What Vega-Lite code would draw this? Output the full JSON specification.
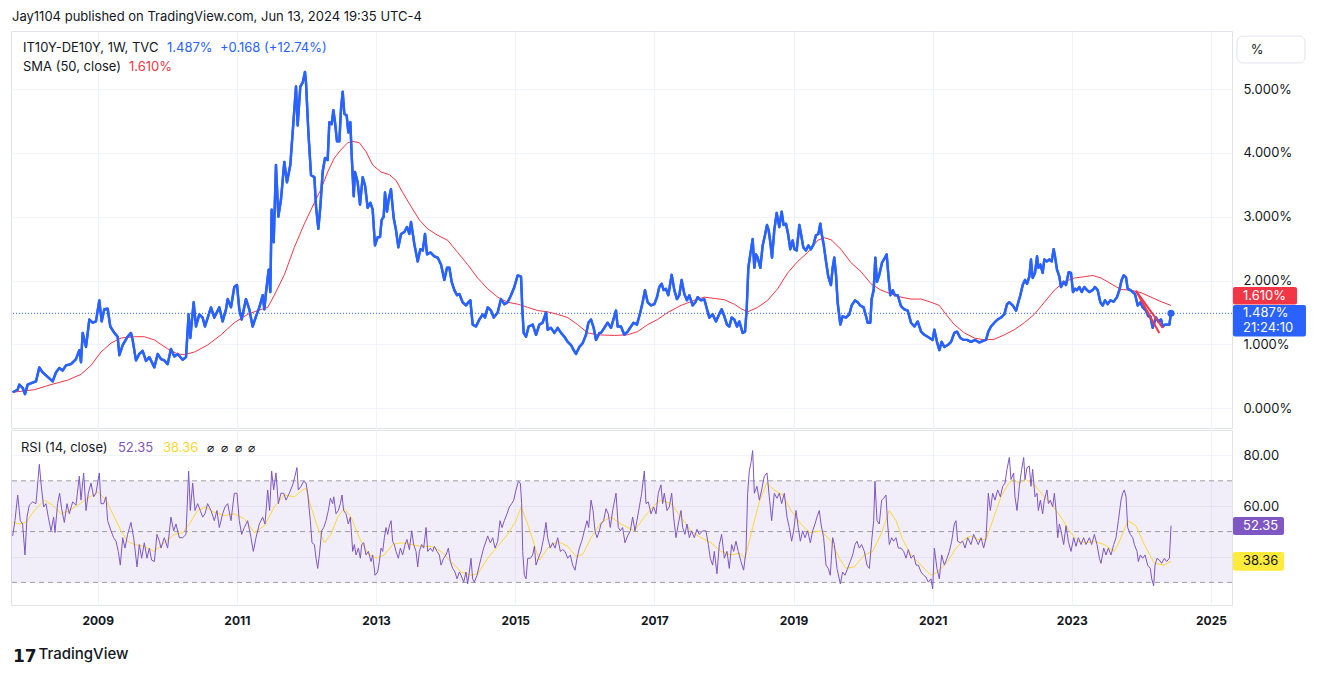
{
  "$schema": "https://vega.github.io/schema/vega-lite/v6.json",
  "background": "white",
  "padding": {"left": 10, "top": 10, "right": 10, "bottom": 0},
  "title": {"text": "Jay1104 published on TradingView.com, Jun 13, 2024 19:35 UTC-4", "anchor": "start", "fontSize": 13, "fontWeight": "normal", "color": "#131722", "font": "Inter", "offset": 7, "dx": 2},
  "spacing": 0,
  "datasets": {
    "price": [
      {"t":2007.778,"v":0.25},{"t":2007.850,"v":0.29},{"t":2007.873,"v":0.37},{"t":2007.921,"v":0.32},{"t":2007.955,"v":0.22},{"t":2007.993,"v":0.37},{"t":2008.065,"v":0.40},{"t":2008.113,"v":0.42},{"t":2008.161,"v":0.64},{"t":2008.209,"v":0.56},{"t":2008.281,"v":0.49},{"t":2008.353,"v":0.42},{"t":2008.400,"v":0.56},{"t":2008.448,"v":0.63},{"t":2008.496,"v":0.59},{"t":2008.544,"v":0.67},{"t":2008.616,"v":0.69},{"t":2008.688,"v":0.77},{"t":2008.736,"v":0.91},{"t":2008.760,"v":0.72},{"t":2008.784,"v":1.18},{"t":2008.832,"v":0.96},{"t":2008.880,"v":1.39},{"t":2008.927,"v":1.34},{"t":2008.975,"v":1.36},{"t":2009.023,"v":1.69},{"t":2009.057,"v":1.36},{"t":2009.095,"v":1.55},{"t":2009.143,"v":1.56},{"t":2009.181,"v":1.28},{"t":2009.239,"v":1.18},{"t":2009.287,"v":1.12},{"t":2009.311,"v":0.83},{"t":2009.359,"v":0.99},{"t":2009.430,"v":1.12},{"t":2009.478,"v":1.18},{"t":2009.502,"v":1.07},{"t":2009.550,"v":0.75},{"t":2009.598,"v":0.85},{"t":2009.646,"v":0.90},{"t":2009.694,"v":0.74},{"t":2009.742,"v":0.80},{"t":2009.814,"v":0.64},{"t":2009.862,"v":0.85},{"t":2009.910,"v":0.77},{"t":2009.957,"v":0.75},{"t":2010.005,"v":0.69},{"t":2010.053,"v":0.93},{"t":2010.101,"v":0.81},{"t":2010.149,"v":0.85},{"t":2010.221,"v":0.76},{"t":2010.269,"v":0.80},{"t":2010.307,"v":1.47},{"t":2010.331,"v":1.10},{"t":2010.379,"v":1.66},{"t":2010.413,"v":1.28},{"t":2010.460,"v":1.47},{"t":2010.508,"v":1.42},{"t":2010.542,"v":1.28},{"t":2010.628,"v":1.58},{"t":2010.676,"v":1.42},{"t":2010.748,"v":1.58},{"t":2010.796,"v":1.36},{"t":2010.844,"v":1.55},{"t":2010.868,"v":1.71},{"t":2010.916,"v":1.58},{"t":2010.963,"v":1.90},{"t":2011.002,"v":1.93},{"t":2011.035,"v":1.55},{"t":2011.069,"v":1.39},{"t":2011.131,"v":1.71},{"t":2011.179,"v":1.55},{"t":2011.227,"v":1.28},{"t":2011.275,"v":1.44},{"t":2011.323,"v":1.58},{"t":2011.371,"v":1.77},{"t":2011.395,"v":1.55},{"t":2011.419,"v":1.82},{"t":2011.457,"v":2.17},{"t":2011.481,"v":1.82},{"t":2011.500,"v":3.11},{"t":2011.529,"v":2.60},{"t":2011.562,"v":3.81},{"t":2011.596,"v":3.00},{"t":2011.634,"v":3.27},{"t":2011.682,"v":3.86},{"t":2011.720,"v":3.54},{"t":2011.768,"v":3.81},{"t":2011.816,"v":4.53},{"t":2011.850,"v":5.04},{"t":2011.874,"v":4.43},{"t":2011.912,"v":5.04},{"t":2011.946,"v":5.10},{"t":2011.979,"v":5.27},
      {"t":2011.994,"v":5.10},{"t":2012.027,"v":4.34},{"t":2012.066,"v":3.65},{"t":2012.114,"v":3.62},{"t":2012.138,"v":3.16},{"t":2012.171,"v":2.81},{"t":2012.200,"v":3.16},{"t":2012.233,"v":3.70},{"t":2012.267,"v":3.92},{"t":2012.305,"v":3.89},{"t":2012.329,"v":4.48},{"t":2012.363,"v":4.45},{"t":2012.387,"v":4.67},{"t":2012.411,"v":4.48},{"t":2012.439,"v":4.18},{"t":2012.473,"v":4.18},{"t":2012.497,"v":4.69},{"t":2012.521,"v":4.96},{"t":2012.545,"v":4.61},{"t":2012.578,"v":4.59},{"t":2012.602,"v":4.32},{"t":2012.631,"v":4.48},{"t":2012.650,"v":3.97},{"t":2012.679,"v":3.32},{"t":2012.698,"v":3.70},{"t":2012.736,"v":3.54},{"t":2012.770,"v":3.19},{"t":2012.808,"v":3.62},{"t":2012.842,"v":3.49},{"t":2012.880,"v":3.14},{"t":2012.918,"v":3.22},{"t":2012.952,"v":3.11},{"t":2012.985,"v":2.55},{"t":2013.024,"v":2.68},{"t":2013.057,"v":2.68},{"t":2013.081,"v":2.95},{"t":2013.110,"v":3.00},{"t":2013.129,"v":3.38},{"t":2013.158,"v":3.08},{"t":2013.182,"v":3.27},{"t":2013.215,"v":3.43},{"t":2013.254,"v":2.98},{"t":2013.287,"v":2.79},{"t":2013.321,"v":2.52},{"t":2013.359,"v":2.73},{"t":2013.407,"v":2.76},{"t":2013.445,"v":2.84},{"t":2013.479,"v":2.73},{"t":2013.503,"v":2.92},{"t":2013.551,"v":2.57},{"t":2013.599,"v":2.30},{"t":2013.637,"v":2.49},{"t":2013.671,"v":2.47},{"t":2013.704,"v":2.73},{"t":2013.733,"v":2.41},{"t":2013.781,"v":2.44},{"t":2013.838,"v":2.38},{"t":2013.886,"v":2.36},{"t":2013.934,"v":2.25},{"t":2013.982,"v":2.01},{"t":2014.020,"v":2.20},{"t":2014.054,"v":2.20},{"t":2014.087,"v":1.98},{"t":2014.126,"v":1.85},{"t":2014.164,"v":1.77},{"t":2014.198,"v":1.79},{"t":2014.245,"v":1.66},{"t":2014.293,"v":1.61},{"t":2014.327,"v":1.66},{"t":2014.356,"v":1.69},{"t":2014.389,"v":1.31},{"t":2014.437,"v":1.28},{"t":2014.485,"v":1.39},{"t":2014.533,"v":1.47},{"t":2014.566,"v":1.42},{"t":2014.605,"v":1.58},{"t":2014.653,"v":1.53},{"t":2014.691,"v":1.42},{"t":2014.748,"v":1.50},{"t":2014.796,"v":1.71},{"t":2014.844,"v":1.63},{"t":2014.892,"v":1.66},{"t":2014.940,"v":1.77},{"t":2014.988,"v":1.90},{"t":2015.036,"v":2.08},{"t":2015.084,"v":2.06},{"t":2015.103,"v":1.55},{"t":2015.122,"v":1.18},{"t":2015.156,"v":1.12},{"t":2015.194,"v":1.28},{"t":2015.252,"v":1.31},{"t":2015.300,"v":1.15},{"t":2015.347,"v":1.31},{"t":2015.395,"v":1.34},{"t":2015.443,"v":1.50},{"t":2015.467,"v":1.23},{"t":2015.515,"v":1.26},{"t":2015.563,"v":1.18},{"t":2015.611,"v":1.26},{"t":2015.659,"v":1.18},{"t":2015.707,"v":1.12},{"t":2015.755,"v":1.04},{"t":2015.802,"v":0.99},{"t":2015.841,"v":0.91},{"t":2015.874,"v":0.85},{"t":2015.922,"v":0.96},{"t":2015.970,"v":1.02},{"t":2016.018,"v":1.15},{"t":2016.052,"v":1.34},{"t":2016.090,"v":1.39},{"t":2016.128,"v":1.26},{"t":2016.162,"v":1.07},{"t":2016.210,"v":1.18},
      {"t":2016.233,"v":1.18},{"t":2016.281,"v":1.26},{"t":2016.329,"v":1.34},{"t":2016.377,"v":1.26},{"t":2016.449,"v":1.53},{"t":2016.473,"v":1.28},{"t":2016.520,"v":1.28},{"t":2016.568,"v":1.15},{"t":2016.616,"v":1.20},{"t":2016.664,"v":1.28},{"t":2016.702,"v":1.34},{"t":2016.750,"v":1.31},{"t":2016.798,"v":1.50},{"t":2016.832,"v":1.66},{"t":2016.865,"v":1.85},{"t":2016.904,"v":1.66},{"t":2016.952,"v":1.61},{"t":2017.000,"v":1.63},{"t":2017.038,"v":1.74},{"t":2017.071,"v":1.90},{"t":2017.105,"v":1.95},{"t":2017.134,"v":1.85},{"t":2017.167,"v":1.87},{"t":2017.201,"v":1.77},{"t":2017.249,"v":2.09},{"t":2017.287,"v":1.85},{"t":2017.325,"v":1.71},{"t":2017.359,"v":1.77},{"t":2017.392,"v":2.01},{"t":2017.431,"v":1.79},{"t":2017.469,"v":1.69},{"t":2017.503,"v":1.77},{"t":2017.550,"v":1.61},{"t":2017.589,"v":1.66},{"t":2017.622,"v":1.74},{"t":2017.670,"v":1.69},{"t":2017.718,"v":1.71},{"t":2017.757,"v":1.55},{"t":2017.790,"v":1.42},{"t":2017.838,"v":1.47},{"t":2017.886,"v":1.36},{"t":2017.919,"v":1.44},{"t":2017.967,"v":1.55},{"t":2018.006,"v":1.44},{"t":2018.044,"v":1.31},{"t":2018.078,"v":1.28},{"t":2018.111,"v":1.42},{"t":2018.149,"v":1.39},{"t":2018.188,"v":1.28},{"t":2018.221,"v":1.36},{"t":2018.269,"v":1.18},{"t":2018.303,"v":1.20},{"t":2018.327,"v":1.55},{"t":2018.351,"v":2.20},{"t":2018.379,"v":2.41},{"t":2018.413,"v":2.65},{"t":2018.437,"v":2.20},{"t":2018.461,"v":2.41},{"t":2018.485,"v":2.36},{"t":2018.523,"v":2.20},{"t":2018.557,"v":2.55},{"t":2018.590,"v":2.71},{"t":2018.619,"v":2.87},{"t":2018.643,"v":2.79},{"t":2018.667,"v":2.60},{"t":2018.691,"v":2.36},{"t":2018.724,"v":2.79},{"t":2018.758,"v":3.06},{"t":2018.796,"v":2.84},{"t":2018.830,"v":3.08},{"t":2018.858,"v":2.87},{"t":2018.892,"v":2.89},{"t":2018.925,"v":2.71},{"t":2018.954,"v":2.49},{"t":2018.988,"v":2.63},{"t":2019.012,"v":2.49},{"t":2019.045,"v":2.47},{"t":2019.084,"v":2.87},{"t":2019.108,"v":2.73},{"t":2019.141,"v":2.52},{"t":2019.179,"v":2.47},{"t":2019.213,"v":2.55},{"t":2019.251,"v":2.49},{"t":2019.289,"v":2.57},{"t":2019.323,"v":2.71},{"t":2019.357,"v":2.73},{"t":2019.385,"v":2.89},{"t":2019.405,"v":2.73},{"t":2019.433,"v":2.57},{"t":2019.467,"v":2.30},{"t":2019.500,"v":2.06},{"t":2019.538,"v":1.93},{"t":2019.563,"v":2.20},{"t":2019.586,"v":2.36},{"t":2019.611,"v":2.09},{"t":2019.634,"v":1.66},{"t":2019.673,"v":1.31},{"t":2019.706,"v":1.44},{"t":2019.754,"v":1.42},{"t":2019.802,"v":1.47},{"t":2019.836,"v":1.61},{"t":2019.884,"v":1.69},{"t":2019.922,"v":1.66},{"t":2019.960,"v":1.61},{"t":2020.008,"v":1.58},{"t":2020.042,"v":1.44},{"t":2020.066,"v":1.34},{"t":2020.104,"v":1.34},{"t":2020.123,"v":1.71},{"t":2020.152,"v":1.85},{"t":2020.176,"v":2.36},{"t":2020.200,"v":1.98},{"t":2020.233,"v":2.09},{"t":2020.272,"v":2.28},{"t":2020.315,"v":2.36},{"t":2020.339,"v":2.41},{"t":2020.363,"v":2.09},{"t":2020.391,"v":1.77},{"t":2020.425,"v":1.85},{"t":2020.458,"v":1.77},{"t":2020.497,"v":1.77},
      {"t":2020.545,"v":1.60},{"t":2020.593,"v":1.55},{"t":2020.641,"v":1.53},{"t":2020.689,"v":1.34},{"t":2020.737,"v":1.28},{"t":2020.785,"v":1.36},{"t":2020.833,"v":1.20},{"t":2020.880,"v":1.15},{"t":2020.928,"v":1.12},{"t":2021.000,"v":1.07},{"t":2021.024,"v":1.23},{"t":2021.062,"v":1.04},{"t":2021.096,"v":0.91},{"t":2021.129,"v":1.04},{"t":2021.168,"v":0.96},{"t":2021.216,"v":0.99},{"t":2021.264,"v":1.04},{"t":2021.311,"v":1.18},{"t":2021.350,"v":1.20},{"t":2021.398,"v":1.10},{"t":2021.446,"v":1.07},{"t":2021.494,"v":1.07},{"t":2021.551,"v":1.04},{"t":2021.609,"v":1.07},{"t":2021.671,"v":1.03},{"t":2021.733,"v":1.06},{"t":2021.767,"v":1.07},{"t":2021.800,"v":1.20},{"t":2021.838,"v":1.28},{"t":2021.886,"v":1.34},{"t":2021.934,"v":1.39},{"t":2021.982,"v":1.42},{"t":2022.030,"v":1.47},{"t":2022.069,"v":1.63},{"t":2022.102,"v":1.66},{"t":2022.150,"v":1.61},{"t":2022.198,"v":1.53},{"t":2022.231,"v":1.66},{"t":2022.260,"v":1.77},{"t":2022.294,"v":1.93},{"t":2022.327,"v":2.01},{"t":2022.356,"v":1.95},{"t":2022.389,"v":2.06},{"t":2022.413,"v":2.33},{"t":2022.437,"v":2.04},{"t":2022.471,"v":2.12},{"t":2022.500,"v":2.38},{"t":2022.519,"v":2.20},{"t":2022.548,"v":2.25},{"t":2022.581,"v":2.12},{"t":2022.605,"v":2.33},{"t":2022.643,"v":2.30},{"t":2022.677,"v":2.33},{"t":2022.710,"v":2.30},{"t":2022.739,"v":2.49},{"t":2022.758,"v":2.38},{"t":2022.787,"v":2.17},{"t":2022.821,"v":2.06},{"t":2022.844,"v":1.90},{"t":2022.883,"v":1.98},{"t":2022.916,"v":1.93},{"t":2022.955,"v":2.13},{"t":2022.988,"v":2.12},{"t":2023.017,"v":1.82},{"t":2023.046,"v":1.87},{"t":2023.075,"v":1.85},{"t":2023.108,"v":1.90},{"t":2023.142,"v":1.82},{"t":2023.180,"v":1.90},{"t":2023.218,"v":1.85},{"t":2023.252,"v":1.82},{"t":2023.300,"v":1.85},{"t":2023.333,"v":1.90},{"t":2023.372,"v":1.85},{"t":2023.410,"v":1.66},{"t":2023.443,"v":1.61},{"t":2023.477,"v":1.69},{"t":2023.515,"v":1.63},{"t":2023.554,"v":1.69},{"t":2023.602,"v":1.67},{"t":2023.649,"v":1.74},{"t":2023.683,"v":1.85},{"t":2023.716,"v":2.01},{"t":2023.745,"v":2.08},{"t":2023.779,"v":2.05},{"t":2023.803,"v":1.87},{"t":2023.841,"v":1.85},{"t":2023.875,"v":1.82},{"t":2023.908,"v":1.79},{"t":2023.947,"v":1.61},{"t":2023.985,"v":1.66},{"t":2024.018,"v":1.58},{"t":2024.066,"v":1.53},{"t":2024.100,"v":1.44},{"t":2024.128,"v":1.44},{"t":2024.162,"v":1.26},{"t":2024.186,"v":1.34},{"t":2024.210,"v":1.42},{"t":2024.243,"v":1.36},{"t":2024.282,"v":1.39},{"t":2024.306,"v":1.28},{"t":2024.339,"v":1.31},{"t":2024.378,"v":1.31},{"t":2024.402,"v":1.31},{"t":2024.425,"v":1.487}
    ],
    "sma": [
      {"t":2007.778,"v":0.25},{"t":2008.089,"v":0.29},{"t":2008.329,"v":0.37},{"t":2008.568,"v":0.44},{"t":2008.760,"v":0.53},{"t":2008.903,"v":0.67},{"t":2009.047,"v":0.88},{"t":2009.191,"v":1.02},{"t":2009.335,"v":1.10},{"t":2009.526,"v":1.12},{"t":2009.670,"v":1.12},{"t":2009.814,"v":1.07},{"t":2010.005,"v":0.93},{"t":2010.149,"v":0.85},{"t":2010.245,"v":0.84},{"t":2010.389,"v":0.88},{"t":2010.580,"v":0.99},{"t":2010.772,"v":1.15},{"t":2010.963,"v":1.34},{"t":2011.155,"v":1.47},{"t":2011.299,"v":1.53},{"t":2011.443,"v":1.58},{"t":2011.538,"v":1.77},{"t":2011.682,"v":2.09},{"t":2011.826,"v":2.52},{"t":2011.970,"v":2.89},
      {"t":2012.114,"v":3.22},{"t":2012.209,"v":3.43},{"t":2012.305,"v":3.70},{"t":2012.401,"v":3.92},{"t":2012.497,"v":4.05},{"t":2012.593,"v":4.16},{"t":2012.665,"v":4.18},{"t":2012.760,"v":4.16},{"t":2012.856,"v":4.02},{"t":2012.952,"v":3.81},{"t":2013.072,"v":3.70},{"t":2013.192,"v":3.66},{"t":2013.287,"v":3.57},{"t":2013.383,"v":3.38},{"t":2013.503,"v":3.16},{"t":2013.623,"v":2.95},{"t":2013.742,"v":2.81},{"t":2013.886,"v":2.71},{"t":2014.030,"v":2.63},{"t":2014.174,"v":2.44},{"t":2014.317,"v":2.25},{"t":2014.461,"v":2.04},{"t":2014.605,"v":1.87},{"t":2014.748,"v":1.74},{"t":2014.892,"v":1.66},{"t":2015.036,"v":1.63},{"t":2015.180,"v":1.58},{"t":2015.323,"v":1.53},{"t":2015.467,"v":1.51},{"t":2015.611,"v":1.47},{"t":2015.755,"v":1.42},{"t":2015.898,"v":1.31},{"t":2016.042,"v":1.18},{"t":2016.186,"v":1.15},
      {"t":2016.425,"v":1.14},{"t":2016.616,"v":1.15},{"t":2016.760,"v":1.20},{"t":2016.904,"v":1.31},{"t":2017.047,"v":1.39},{"t":2017.191,"v":1.50},{"t":2017.383,"v":1.61},{"t":2017.574,"v":1.69},{"t":2017.718,"v":1.74},{"t":2017.862,"v":1.72},{"t":2018.006,"v":1.70},{"t":2018.149,"v":1.63},{"t":2018.245,"v":1.56},{"t":2018.341,"v":1.51},{"t":2018.485,"v":1.58},{"t":2018.628,"v":1.69},{"t":2018.772,"v":1.87},{"t":2018.916,"v":2.12},{"t":2019.060,"v":2.30},{"t":2019.203,"v":2.44},{"t":2019.347,"v":2.63},{"t":2019.443,"v":2.67},{"t":2019.539,"v":2.64},{"t":2019.682,"v":2.49},{"t":2019.826,"v":2.28},{"t":2019.970,"v":2.14},{"t":2020.113,"v":1.95},{"t":2020.257,"v":1.85},{"t":2020.401,"v":1.79},
      {"t":2020.545,"v":1.74},{"t":2020.689,"v":1.71},{"t":2020.833,"v":1.71},{"t":2020.976,"v":1.66},{"t":2021.096,"v":1.61},{"t":2021.192,"v":1.47},{"t":2021.311,"v":1.31},{"t":2021.455,"v":1.18},{"t":2021.599,"v":1.10},{"t":2021.743,"v":1.07},{"t":2021.886,"v":1.08},{"t":2022.030,"v":1.15},{"t":2022.174,"v":1.23},{"t":2022.318,"v":1.34},{"t":2022.461,"v":1.47},{"t":2022.605,"v":1.66},{"t":2022.749,"v":1.85},{"t":2022.892,"v":1.98},{"t":2023.036,"v":2.04},{"t":2023.180,"v":2.06},{"t":2023.300,"v":2.08},{"t":2023.420,"v":2.04},{"t":2023.563,"v":1.95},{"t":2023.707,"v":1.86},{"t":2023.851,"v":1.85},{"t":2023.994,"v":1.81},{"t":2024.138,"v":1.74},{"t":2024.282,"v":1.67},{"t":2024.425,"v":1.61}
    ],
    "trend": [
      {"seg":"a","t":2023.922,"v":1.84},{"seg":"a","t":2024.257,"v":1.18},
      {"seg":"b","t":2023.922,"v":1.84},{"seg":"b","t":2024.306,"v":1.26}
    ],
    "last": [{"t":2024.425,"v":1.487}],
    "rsi": [
      {"t":2007.778,"r":48.3},{"t":2007.811,"r":54.3},{"t":2007.850,"r":64.4},{"t":2007.888,"r":54.3},{"t":2007.921,"r":53.0},{"t":2007.955,"r":40.8},{"t":2007.984,"r":55.7},{"t":2008.017,"r":60.4},{"t":2008.065,"r":61.7},{"t":2008.113,"r":61.0},{"t":2008.161,"r":76.5},{"t":2008.185,"r":69.1},{"t":2008.223,"r":59.7},{"t":2008.257,"r":61.0},{"t":2008.290,"r":55.7},{"t":2008.329,"r":50.3},{"t":2008.367,"r":55.7},{"t":2008.386,"r":49.6},{"t":2008.424,"r":61.0},{"t":2008.453,"r":65.1},{"t":2008.482,"r":59.0},{"t":2008.520,"r":53.6},{"t":2008.559,"r":61.0},{"t":2008.592,"r":57.0},{"t":2008.640,"r":61.7},{"t":2008.688,"r":60.4},{"t":2008.736,"r":71.8},{"t":2008.760,"r":62.4},{"t":2008.798,"r":73.1},{"t":2008.832,"r":58.3},{"t":2008.865,"r":65.1},{"t":2008.904,"r":69.1},{"t":2008.942,"r":63.7},{"t":2008.975,"r":65.1},{"t":2009.023,"r":73.1},{"t":2009.047,"r":61.0},{"t":2009.086,"r":61.0},{"t":2009.119,"r":63.7},{"t":2009.143,"r":54.3},{"t":2009.191,"r":50.3},{"t":2009.229,"r":47.6},{"t":2009.263,"r":46.2},{"t":2009.296,"r":42.2},{"t":2009.325,"r":36.8},{"t":2009.359,"r":47.6},{"t":2009.392,"r":43.5},{"t":2009.430,"r":48.9},{"t":2009.478,"r":53.6},{"t":2009.517,"r":47.6},{"t":2009.565,"r":36.1},{"t":2009.598,"r":44.9},{"t":2009.632,"r":39.5},{"t":2009.670,"r":45.6},{"t":2009.708,"r":39.5},{"t":2009.742,"r":43.5},{"t":2009.775,"r":38.8},{"t":2009.814,"r":38.2},{"t":2009.852,"r":48.9},{"t":2009.886,"r":46.2},{"t":2009.910,"r":43.5},{"t":2009.957,"r":47.6},{"t":2010.005,"r":43.5},{"t":2010.053,"r":55.7},{"t":2010.092,"r":50.3},{"t":2010.125,"r":53.0},{"t":2010.173,"r":47.6},{"t":2010.221,"r":47.6},{"t":2010.269,"r":48.9},{"t":2010.307,"r":73.8},{"t":2010.331,"r":58.3},{"t":2010.365,"r":69.1},{"t":2010.398,"r":58.3},{"t":2010.437,"r":61.0},{"t":2010.475,"r":58.3},{"t":2010.508,"r":55.7},{"t":2010.542,"r":57.0},{"t":2010.580,"r":61.0},{"t":2010.628,"r":58.3},{"t":2010.676,"r":54.3},{"t":2010.714,"r":58.3},{"t":2010.748,"r":51.6},{"t":2010.796,"r":57.0},{"t":2010.829,"r":59.7},{"t":2010.868,"r":61.0},{"t":2010.916,"r":54.3},{"t":2010.963,"r":65.1},{"t":2011.002,"r":65.1},{"t":2011.035,"r":54.3},{"t":2011.069,"r":48.9},{"t":2011.107,"r":51.6},{"t":2011.155,"r":54.3},{"t":2011.203,"r":47.6},{"t":2011.237,"r":42.2},{"t":2011.275,"r":47.6},{"t":2011.323,"r":53.0},{"t":2011.371,"r":55.7},{"t":2011.404,"r":53.0},{"t":2011.443,"r":66.4},{"t":2011.471,"r":58.3},{"t":2011.500,"r":73.8},{"t":2011.529,"r":66.4},{"t":2011.562,"r":73.1},{"t":2011.596,"r":61.0},{"t":2011.634,"r":65.1},{"t":2011.673,"r":65.1},{"t":2011.706,"r":62.4},{"t":2011.754,"r":65.1},{"t":2011.802,"r":68.4},{"t":2011.835,"r":71.8},{"t":2011.864,"r":75.2},{"t":2011.883,"r":66.4},{"t":2011.922,"r":67.8},{"t":2011.960,"r":69.8},{"t":2011.994,"r":69.1},
      {"t":2012.018,"r":65.1},{"t":2012.056,"r":54.3},{"t":2012.080,"r":45.6},{"t":2012.114,"r":44.9},{"t":2012.138,"r":39.5},{"t":2012.162,"r":35.5},{"t":2012.186,"r":40.8},{"t":2012.219,"r":50.3},{"t":2012.248,"r":51.6},{"t":2012.281,"r":54.3},{"t":2012.315,"r":58.3},{"t":2012.344,"r":63.1},{"t":2012.377,"r":61.0},{"t":2012.392,"r":63.7},{"t":2012.425,"r":57.0},{"t":2012.459,"r":58.3},{"t":2012.487,"r":61.0},{"t":2012.511,"r":64.4},{"t":2012.535,"r":58.3},{"t":2012.569,"r":57.0},{"t":2012.602,"r":53.0},{"t":2012.631,"r":55.7},{"t":2012.665,"r":42.2},{"t":2012.689,"r":44.9},{"t":2012.713,"r":40.8},{"t":2012.746,"r":43.5},{"t":2012.775,"r":39.5},{"t":2012.794,"r":44.9},{"t":2012.823,"r":45.6},{"t":2012.856,"r":40.8},{"t":2012.890,"r":42.2},{"t":2012.928,"r":38.2},{"t":2012.952,"r":40.8},{"t":2012.986,"r":32.8},{"t":2013.024,"r":34.1},{"t":2013.048,"r":38.2},{"t":2013.072,"r":43.5},{"t":2013.096,"r":42.2},{"t":2013.120,"r":47.6},{"t":2013.144,"r":51.6},{"t":2013.168,"r":48.9},{"t":2013.192,"r":52.3},{"t":2013.216,"r":54.3},{"t":2013.239,"r":46.2},{"t":2013.263,"r":44.9},{"t":2013.287,"r":42.2},{"t":2013.321,"r":39.5},{"t":2013.350,"r":43.5},{"t":2013.383,"r":40.8},{"t":2013.417,"r":44.9},{"t":2013.445,"r":46.9},{"t":2013.479,"r":42.9},{"t":2013.513,"r":50.3},{"t":2013.541,"r":44.9},{"t":2013.575,"r":42.2},{"t":2013.599,"r":36.1},{"t":2013.623,"r":42.2},{"t":2013.656,"r":44.9},{"t":2013.685,"r":43.5},{"t":2013.719,"r":51.6},{"t":2013.743,"r":42.2},{"t":2013.781,"r":43.5},{"t":2013.814,"r":42.2},{"t":2013.838,"r":44.2},{"t":2013.877,"r":42.2},{"t":2013.910,"r":40.8},{"t":2013.934,"r":36.8},{"t":2013.972,"r":39.5},{"t":2014.006,"r":40.8},{"t":2014.040,"r":43.5},{"t":2014.068,"r":38.2},{"t":2014.102,"r":35.5},{"t":2014.135,"r":34.1},{"t":2014.164,"r":31.4},{"t":2014.198,"r":34.1},{"t":2014.222,"r":32.8},{"t":2014.260,"r":30.1},{"t":2014.293,"r":34.1},{"t":2014.317,"r":29.4},{"t":2014.341,"r":34.1},{"t":2014.365,"r":39.5},{"t":2014.389,"r":31.4},{"t":2014.413,"r":30.1},{"t":2014.452,"r":32.8},{"t":2014.485,"r":36.8},{"t":2014.509,"r":39.5},{"t":2014.547,"r":43.5},{"t":2014.581,"r":46.2},{"t":2014.605,"r":48.3},{"t":2014.643,"r":45.6},{"t":2014.677,"r":47.6},{"t":2014.710,"r":43.5},{"t":2014.749,"r":46.2},{"t":2014.782,"r":54.3},{"t":2014.811,"r":51.6},{"t":2014.844,"r":54.3},{"t":2014.883,"r":57.0},{"t":2014.916,"r":59.7},{"t":2014.950,"r":61.0},{"t":2014.979,"r":62.4},{"t":2015.012,"r":66.4},{"t":2015.046,"r":69.8},{"t":2015.074,"r":69.1},{"t":2015.093,"r":61.0},{"t":2015.108,"r":42.2},{"t":2015.132,"r":32.8},{"t":2015.156,"r":31.4},{"t":2015.180,"r":39.5},{"t":2015.218,"r":39.5},{"t":2015.252,"r":40.8},{"t":2015.276,"r":44.2},{"t":2015.299,"r":36.8},{"t":2015.333,"r":39.5},{"t":2015.371,"r":42.2},{"t":2015.410,"r":47.6},{"t":2015.443,"r":53.6},{"t":2015.467,"r":47.6},{"t":2015.505,"r":43.5},{"t":2015.539,"r":45.6},{"t":2015.573,"r":43.5},{"t":2015.611,"r":47.6},{"t":2015.649,"r":42.2},{"t":2015.683,"r":42.9},{"t":2015.716,"r":42.2},{"t":2015.755,"r":39.5},{"t":2015.793,"r":40.8},{"t":2015.826,"r":36.8},{"t":2015.860,"r":34.8},{"t":2015.889,"r":39.5},{"t":2015.922,"r":43.5},{"t":2015.956,"r":46.2},{"t":2015.994,"r":50.3},{"t":2016.032,"r":54.3},{"t":2016.056,"r":51.6},{"t":2016.090,"r":62.4},{"t":2016.119,"r":58.3},{"t":2016.147,"r":50.3},{"t":2016.176,"r":47.6},{"t":2016.210,"r":50.3},
      {"t":2016.233,"r":53.0},{"t":2016.271,"r":54.3},{"t":2016.305,"r":59.0},{"t":2016.338,"r":57.0},{"t":2016.367,"r":51.6},{"t":2016.401,"r":58.3},{"t":2016.449,"r":65.1},{"t":2016.482,"r":51.6},{"t":2016.511,"r":50.3},{"t":2016.544,"r":51.6},{"t":2016.578,"r":45.6},{"t":2016.616,"r":48.3},{"t":2016.655,"r":50.3},{"t":2016.688,"r":55.7},{"t":2016.722,"r":50.3},{"t":2016.750,"r":54.3},{"t":2016.784,"r":59.7},{"t":2016.818,"r":65.1},{"t":2016.856,"r":73.8},{"t":2016.880,"r":61.0},{"t":2016.913,"r":61.7},{"t":2016.952,"r":57.0},{"t":2016.990,"r":59.7},{"t":2017.024,"r":57.0},{"t":2017.057,"r":65.1},{"t":2017.095,"r":68.4},{"t":2017.119,"r":61.0},{"t":2017.143,"r":65.1},{"t":2017.182,"r":58.3},{"t":2017.215,"r":59.7},{"t":2017.249,"r":65.1},{"t":2017.277,"r":55.7},{"t":2017.311,"r":47.6},{"t":2017.344,"r":53.0},{"t":2017.383,"r":58.3},{"t":2017.407,"r":51.6},{"t":2017.440,"r":48.9},{"t":2017.469,"r":53.0},{"t":2017.503,"r":47.6},{"t":2017.536,"r":50.3},{"t":2017.574,"r":47.6},{"t":2017.613,"r":50.9},{"t":2017.646,"r":48.9},{"t":2017.694,"r":50.3},{"t":2017.742,"r":50.3},{"t":2017.776,"r":44.9},{"t":2017.804,"r":39.5},{"t":2017.838,"r":36.8},{"t":2017.862,"r":42.2},{"t":2017.900,"r":33.4},{"t":2017.934,"r":44.9},{"t":2017.967,"r":48.9},{"t":2018.006,"r":39.5},{"t":2018.044,"r":42.2},{"t":2018.077,"r":35.5},{"t":2018.111,"r":44.9},{"t":2018.140,"r":42.2},{"t":2018.173,"r":46.2},{"t":2018.207,"r":42.2},{"t":2018.245,"r":38.2},{"t":2018.283,"r":34.8},{"t":2018.317,"r":42.2},{"t":2018.341,"r":65.1},{"t":2018.365,"r":73.8},{"t":2018.389,"r":77.2},{"t":2018.413,"r":81.9},{"t":2018.437,"r":65.1},{"t":2018.475,"r":67.8},{"t":2018.509,"r":62.4},{"t":2018.542,"r":66.4},{"t":2018.580,"r":71.8},{"t":2018.619,"r":73.1},{"t":2018.652,"r":63.7},{"t":2018.686,"r":54.3},{"t":2018.724,"r":65.1},{"t":2018.763,"r":63.1},{"t":2018.796,"r":65.1},{"t":2018.830,"r":61.0},{"t":2018.868,"r":65.1},{"t":2018.906,"r":55.7},{"t":2018.940,"r":51.6},{"t":2018.973,"r":46.2},{"t":2019.002,"r":50.3},{"t":2019.036,"r":58.3},{"t":2019.069,"r":51.6},{"t":2019.098,"r":46.2},{"t":2019.131,"r":50.3},{"t":2019.165,"r":47.6},{"t":2019.203,"r":50.3},{"t":2019.242,"r":45.6},{"t":2019.275,"r":50.3},{"t":2019.309,"r":53.0},{"t":2019.337,"r":55.7},{"t":2019.371,"r":58.3},{"t":2019.395,"r":53.0},{"t":2019.433,"r":47.6},{"t":2019.467,"r":36.8},{"t":2019.500,"r":35.5},{"t":2019.529,"r":32.8},{"t":2019.563,"r":47.6},{"t":2019.587,"r":44.9},{"t":2019.625,"r":35.5},{"t":2019.673,"r":29.4},{"t":2019.706,"r":34.1},{"t":2019.740,"r":32.8},{"t":2019.778,"r":35.5},{"t":2019.816,"r":38.2},{"t":2019.850,"r":40.8},{"t":2019.884,"r":44.9},{"t":2019.912,"r":46.2},{"t":2019.946,"r":43.5},{"t":2019.979,"r":44.9},{"t":2020.018,"r":42.2},{"t":2020.056,"r":36.8},{"t":2020.090,"r":35.5},{"t":2020.123,"r":46.2},{"t":2020.152,"r":54.3},{"t":2020.171,"r":69.8},{"t":2020.200,"r":54.3},{"t":2020.233,"r":53.0},{"t":2020.267,"r":62.4},{"t":2020.296,"r":63.1},{"t":2020.329,"r":64.4},{"t":2020.353,"r":53.0},{"t":2020.377,"r":44.9},{"t":2020.411,"r":47.6},{"t":2020.439,"r":46.2},{"t":2020.473,"r":47.6},{"t":2020.506,"r":43.5},
      {"t":2020.545,"r":43.5},{"t":2020.583,"r":42.2},{"t":2020.617,"r":39.5},{"t":2020.650,"r":42.9},{"t":2020.689,"r":39.5},{"t":2020.727,"r":40.8},{"t":2020.761,"r":36.8},{"t":2020.794,"r":36.8},{"t":2020.832,"r":34.1},{"t":2020.871,"r":32.8},{"t":2020.904,"r":32.1},{"t":2020.938,"r":30.1},{"t":2020.976,"r":31.4},{"t":2021.000,"r":27.4},{"t":2021.024,"r":43.5},{"t":2021.062,"r":35.5},{"t":2021.096,"r":31.4},{"t":2021.129,"r":40.8},{"t":2021.168,"r":36.8},{"t":2021.206,"r":39.5},{"t":2021.240,"r":42.2},{"t":2021.273,"r":46.2},{"t":2021.312,"r":53.0},{"t":2021.335,"r":54.3},{"t":2021.359,"r":46.2},{"t":2021.398,"r":45.6},{"t":2021.431,"r":46.2},{"t":2021.465,"r":43.5},{"t":2021.503,"r":47.6},{"t":2021.551,"r":44.9},{"t":2021.589,"r":48.9},{"t":2021.623,"r":46.9},{"t":2021.656,"r":44.9},{"t":2021.695,"r":47.6},{"t":2021.733,"r":43.5},{"t":2021.767,"r":47.6},{"t":2021.800,"r":65.1},{"t":2021.829,"r":58.3},{"t":2021.862,"r":65.1},{"t":2021.896,"r":62.4},{"t":2021.934,"r":66.4},{"t":2021.973,"r":63.7},{"t":2022.006,"r":67.8},{"t":2022.040,"r":69.1},{"t":2022.068,"r":74.5},{"t":2022.102,"r":79.2},{"t":2022.126,"r":70.5},{"t":2022.164,"r":73.1},{"t":2022.183,"r":63.7},{"t":2022.212,"r":58.3},{"t":2022.246,"r":67.8},{"t":2022.279,"r":74.5},{"t":2022.308,"r":79.2},{"t":2022.327,"r":70.5},{"t":2022.356,"r":75.2},{"t":2022.389,"r":75.8},{"t":2022.413,"r":67.8},{"t":2022.437,"r":74.5},{"t":2022.471,"r":63.7},{"t":2022.500,"r":65.1},{"t":2022.519,"r":58.3},{"t":2022.548,"r":62.4},{"t":2022.581,"r":57.0},{"t":2022.605,"r":62.4},{"t":2022.643,"r":66.4},{"t":2022.663,"r":61.0},{"t":2022.691,"r":62.4},{"t":2022.725,"r":59.7},{"t":2022.749,"r":65.1},{"t":2022.773,"r":58.3},{"t":2022.797,"r":47.6},{"t":2022.821,"r":53.0},{"t":2022.845,"r":50.3},{"t":2022.883,"r":44.9},{"t":2022.916,"r":52.3},{"t":2022.950,"r":46.2},{"t":2022.988,"r":42.2},{"t":2023.027,"r":47.6},{"t":2023.060,"r":44.2},{"t":2023.094,"r":47.6},{"t":2023.132,"r":44.9},{"t":2023.170,"r":47.6},{"t":2023.204,"r":44.9},{"t":2023.252,"r":47.6},{"t":2023.285,"r":44.9},{"t":2023.324,"r":48.9},{"t":2023.362,"r":44.9},{"t":2023.396,"r":39.5},{"t":2023.419,"r":37.5},{"t":2023.458,"r":43.5},{"t":2023.491,"r":40.8},{"t":2023.525,"r":43.5},{"t":2023.563,"r":40.8},{"t":2023.602,"r":44.9},{"t":2023.635,"r":47.6},{"t":2023.669,"r":54.3},{"t":2023.707,"r":62.4},{"t":2023.731,"r":65.1},{"t":2023.755,"r":66.4},{"t":2023.779,"r":63.7},{"t":2023.803,"r":51.6},{"t":2023.841,"r":48.9},{"t":2023.875,"r":47.6},{"t":2023.899,"r":44.9},{"t":2023.937,"r":42.2},{"t":2023.956,"r":38.2},{"t":2023.985,"r":40.8},{"t":2024.018,"r":39.5},{"t":2024.052,"r":40.8},{"t":2024.090,"r":36.8},{"t":2024.128,"r":35.5},{"t":2024.148,"r":31.4},{"t":2024.176,"r":28.7},{"t":2024.196,"r":36.8},{"t":2024.224,"r":39.5},{"t":2024.258,"r":38.8},{"t":2024.291,"r":37.5},{"t":2024.330,"r":39.5},{"t":2024.363,"r":38.2},{"t":2024.402,"r":39.5},{"t":2024.426,"r":52.35}
    ],
    "rsima": [
      {"t":2007.778,"r":53.6},{"t":2007.873,"r":53.0},{"t":2007.969,"r":53.6},{"t":2008.089,"r":58.3},{"t":2008.233,"r":62.4},{"t":2008.353,"r":60.4},{"t":2008.472,"r":57.0},{"t":2008.592,"r":58.3},{"t":2008.712,"r":60.4},{"t":2008.856,"r":63.1},{"t":2009.000,"r":65.7},{"t":2009.119,"r":62.4},{"t":2009.239,"r":55.7},{"t":2009.335,"r":50.3},{"t":2009.430,"r":46.2},{"t":2009.526,"r":44.9},{"t":2009.670,"r":44.2},{"t":2009.814,"r":42.2},{"t":2009.957,"r":45.6},{"t":2010.101,"r":48.9},{"t":2010.221,"r":49.6},{"t":2010.317,"r":53.0},{"t":2010.437,"r":58.3},{"t":2010.556,"r":59.7},{"t":2010.676,"r":57.6},{"t":2010.820,"r":56.3},{"t":2010.963,"r":57.0},{"t":2011.107,"r":55.0},{"t":2011.251,"r":49.6},{"t":2011.395,"r":52.3},{"t":2011.538,"r":59.7},{"t":2011.682,"r":64.4},{"t":2011.826,"r":63.7},{"t":2011.946,"r":66.4},{"t":2011.994,"r":67.0},
      {"t":2012.066,"r":59.7},{"t":2012.162,"r":51.6},{"t":2012.257,"r":45.6},{"t":2012.353,"r":48.9},{"t":2012.449,"r":55.7},{"t":2012.545,"r":59.0},{"t":2012.641,"r":55.7},{"t":2012.760,"r":47.6},{"t":2012.880,"r":41.5},{"t":2013.000,"r":39.5},{"t":2013.120,"r":40.8},{"t":2013.239,"r":44.9},{"t":2013.359,"r":45.6},{"t":2013.503,"r":44.9},{"t":2013.646,"r":44.2},{"t":2013.790,"r":44.2},{"t":2013.934,"r":42.2},{"t":2014.078,"r":38.2},{"t":2014.222,"r":34.1},{"t":2014.365,"r":32.8},{"t":2014.461,"r":33.4},{"t":2014.605,"r":39.5},{"t":2014.749,"r":44.2},{"t":2014.892,"r":48.9},{"t":2015.012,"r":54.3},{"t":2015.084,"r":59.7},{"t":2015.180,"r":53.0},{"t":2015.347,"r":38.8},{"t":2015.467,"r":43.5},{"t":2015.611,"r":46.2},{"t":2015.755,"r":44.2},{"t":2015.874,"r":40.2},{"t":2015.970,"r":41.0},{"t":2016.090,"r":47.6},
      {"t":2016.233,"r":53.6},{"t":2016.377,"r":55.7},{"t":2016.520,"r":53.0},{"t":2016.712,"r":50.3},{"t":2016.856,"r":55.7},{"t":2017.000,"r":60.4},{"t":2017.095,"r":62.4},{"t":2017.239,"r":61.0},{"t":2017.383,"r":55.7},{"t":2017.526,"r":50.3},{"t":2017.670,"r":47.6},{"t":2017.814,"r":45.6},{"t":2017.958,"r":42.2},{"t":2018.101,"r":40.8},{"t":2018.221,"r":41.5},{"t":2018.303,"r":39.5},{"t":2018.413,"r":51.6},{"t":2018.509,"r":61.7},{"t":2018.614,"r":69.1},{"t":2018.724,"r":66.4},{"t":2018.844,"r":64.4},{"t":2018.964,"r":58.3},{"t":2019.107,"r":53.0},{"t":2019.227,"r":49.6},{"t":2019.395,"r":50.3},{"t":2019.539,"r":46.2},{"t":2019.658,"r":39.5},{"t":2019.754,"r":35.5},{"t":2019.874,"r":36.1},{"t":2020.018,"r":40.8},{"t":2020.137,"r":42.2},{"t":2020.257,"r":48.9},{"t":2020.377,"r":58.3},{"t":2020.473,"r":54.3},
      {"t":2020.569,"r":46.9},{"t":2020.689,"r":40.8},{"t":2020.832,"r":36.8},{"t":2020.976,"r":32.8},{"t":2021.072,"r":34.1},{"t":2021.216,"r":38.2},{"t":2021.335,"r":43.5},{"t":2021.455,"r":46.9},{"t":2021.551,"r":48.3},{"t":2021.647,"r":46.9},{"t":2021.767,"r":46.9},{"t":2021.862,"r":54.3},{"t":2021.982,"r":63.7},{"t":2022.078,"r":68.4},{"t":2022.150,"r":70.5},{"t":2022.246,"r":69.1},{"t":2022.327,"r":70.7},{"t":2022.461,"r":68.4},{"t":2022.581,"r":64.4},{"t":2022.701,"r":61.0},{"t":2022.845,"r":55.7},{"t":2022.964,"r":50.3},{"t":2023.084,"r":46.2},{"t":2023.204,"r":45.6},{"t":2023.324,"r":46.2},{"t":2023.467,"r":44.9},{"t":2023.611,"r":42.2},{"t":2023.707,"r":47.6},{"t":2023.803,"r":54.3},{"t":2023.923,"r":52.3},{"t":2024.042,"r":44.9},{"t":2024.186,"r":37.5},{"t":2024.330,"r":36.8},{"t":2024.426,"r":38.36}
    ],
    "band": [{"lo":30,"hi":70}],
    "levels": [{"lvl":70},{"lvl":50},{"lvl":30}],
    "one": [{}]
  },
  "vconcat": [
    {
      "width": 1221,
      "height": 397,
      "layer": [
        {
          "data": {"name": "price"},
          "mark": {"type": "line", "color": "#2962ff", "strokeWidth": 2.4, "strokeJoin": "round"},
          "encoding": {
            "x": {"field": "t", "type": "quantitative", "title": null, "scale": {"domain": [2007.754, 2025.302], "nice": false, "zero": false},
                  "axis": {"values": [2009, 2011, 2013, 2015, 2017, 2019, 2021, 2023, 2025], "labels": false, "ticks": false, "domain": false, "grid": true, "title": null}},
            "y": {"field": "v", "type": "quantitative", "title": null, "scale": {"domain": [-0.31, 5.91], "nice": false, "zero": false},
                  "axis": {"orient": "right", "values": [0, 1, 2, 3, 4, 5], "labelExpr": "format(datum.value, '.3f') + '%'", "ticks": false, "domain": false, "grid": true, "labelPadding": 11, "labelFontSize": 13, "title": null}}
          }
        },
        {
          "data": {"name": "one"},
          "mark": {"type": "rule", "color": "#2962ff", "strokeDash": [1, 2], "strokeWidth": 1},
          "encoding": {"y": {"datum": 1.487, "type": "quantitative"}}
        },
        {
          "data": {"name": "sma"},
          "mark": {"type": "line", "color": "#f23645", "strokeWidth": 1},
          "encoding": {
            "x": {"field": "t", "type": "quantitative", "title": null, "scale": {"domain": [2007.754, 2025.302], "nice": false, "zero": false}},
            "y": {"field": "v", "type": "quantitative", "title": null, "scale": {"domain": [-0.31, 5.91], "nice": false, "zero": false}}
          }
        },
        {
          "data": {"name": "price"},
          "mark": {"type": "line", "color": "#2962ff", "strokeWidth": 2.4, "strokeJoin": "round"},
          "encoding": {
            "x": {"field": "t", "type": "quantitative", "title": null},
            "y": {"field": "v", "type": "quantitative", "title": null}
          }
        },
        {
          "data": {"name": "trend"},
          "mark": {"type": "line", "color": "#f23645", "strokeWidth": 2},
          "encoding": {
            "x": {"field": "t", "type": "quantitative", "title": null},
            "y": {"field": "v", "type": "quantitative", "title": null},
            "detail": {"field": "seg"}
          }
        },
        {
          "data": {"name": "last"},
          "mark": {"type": "circle", "color": "#2962ff", "opacity": 1, "size": 50},
          "encoding": {
            "x": {"field": "t", "type": "quantitative", "title": null},
            "y": {"field": "v", "type": "quantitative", "title": null}
          }
        },
        {
          "data": {"name": "one"},
          "mark": {"type": "text", "text": "IT10Y-DE10Y, 1W, TVC", "align": "left", "baseline": "middle", "fontSize": 13, "color": "#131722", "font": "Inter"},
          "encoding": {"x": {"datum": 2007.926, "type": "quantitative"}, "y": {"datum": 5.644, "type": "quantitative"}}
        },
        {
          "data": {"name": "one"},
          "mark": {"type": "text", "text": "1.487%\u00a0\u00a0+0.168 (+12.74%)", "align": "left", "baseline": "middle", "fontSize": 13, "color": "#2962ff", "font": "Inter"},
          "encoding": {"x": {"datum": 2009.996, "type": "quantitative"}, "y": {"datum": 5.644, "type": "quantitative"}}
        },
        {
          "data": {"name": "one"},
          "mark": {"type": "text", "text": "SMA (50, close)", "align": "left", "baseline": "middle", "fontSize": 13, "color": "#131722", "font": "Inter"},
          "encoding": {"x": {"datum": 2007.926, "type": "quantitative"}, "y": {"datum": 5.346, "type": "quantitative"}}
        },
        {
          "data": {"name": "one"},
          "mark": {"type": "text", "text": "1.610%", "align": "left", "baseline": "middle", "fontSize": 13, "color": "#f23645", "font": "Inter"},
          "encoding": {"x": {"datum": 2009.45, "type": "quantitative"}, "y": {"datum": 5.346, "type": "quantitative"}}
        },
        {
          "data": {"name": "one"},
          "mark": {"type": "rect", "fill": "white", "stroke": "#e0e3eb", "strokeWidth": 1, "cornerRadius": 6},
          "encoding": {"x": {"datum": 2025.374, "type": "quantitative"}, "x2": {"datum": 2026.351}, "y": {"datum": 5.83, "type": "quantitative"}, "y2": {"datum": 5.41}}
        },
        {
          "data": {"name": "one"},
          "mark": {"type": "text", "text": "%", "align": "left", "baseline": "middle", "fontSize": 13, "color": "#131722", "font": "Inter"},
          "encoding": {"x": {"datum": 2025.57, "type": "quantitative"}, "y": {"datum": 5.62, "type": "quantitative"}}
        },
        {
          "data": {"name": "one"},
          "mark": {"type": "rect", "fill": "#f23645", "cornerRadius": 2},
          "encoding": {"x": {"datum": 2025.316, "type": "quantitative"}, "x2": {"datum": 2026.236}, "y": {"datum": 1.899, "type": "quantitative"}, "y2": {"datum": 1.625}}
        },
        {
          "data": {"name": "one"},
          "mark": {"type": "text", "text": "1.610%", "align": "left", "baseline": "middle", "fontSize": 13, "color": "white", "font": "Inter"},
          "encoding": {"x": {"datum": 2025.46, "type": "quantitative"}, "y": {"datum": 1.762, "type": "quantitative"}}
        },
        {
          "data": {"name": "one"},
          "mark": {"type": "rect", "fill": "#2962ff", "cornerRadius": 2},
          "encoding": {"x": {"datum": 2025.316, "type": "quantitative"}, "x2": {"datum": 2026.365}, "y": {"datum": 1.617, "type": "quantitative"}, "y2": {"datum": 1.125}}
        },
        {
          "data": {"name": "one"},
          "mark": {"type": "text", "text": "1.487%", "align": "left", "baseline": "middle", "fontSize": 13, "color": "white", "font": "Inter"},
          "encoding": {"x": {"datum": 2025.46, "type": "quantitative"}, "y": {"datum": 1.487, "type": "quantitative"}}
        },
        {
          "data": {"name": "one"},
          "mark": {"type": "text", "text": "21:24:10", "align": "left", "baseline": "middle", "fontSize": 13, "color": "white", "font": "Inter"},
          "encoding": {"x": {"datum": 2025.46, "type": "quantitative"}, "y": {"datum": 1.25, "type": "quantitative"}}
        }
      ]
    },
    {
      "width": 1221,
      "height": 175,
      "layer": [
        {
          "data": {"name": "rsi"},
          "mark": {"type": "line", "color": "#7e57c2", "strokeWidth": 1, "opacity": 0},
          "encoding": {
            "x": {"field": "t", "type": "quantitative", "title": "TradingView", "scale": {"domain": [2007.754, 2025.302], "nice": false, "zero": false},
                  "axis": {"values": [2009, 2011, 2013, 2015, 2017, 2019, 2021, 2023, 2025], "format": "d", "labelFontWeight": "bold", "labelFontSize": 12, "labelPadding": 10, "ticks": false, "domain": false, "grid": true,
                           "title": "TradingView", "titleAnchor": "start", "titleAlign": "left", "titleX": 27, "titleFontSize": 15, "titleFontWeight": 500, "titlePadding": 20}},
            "y": {"field": "r", "type": "quantitative", "title": null, "scale": {"domain": [21.1, 90], "nice": false, "zero": false},
                  "axis": {"orient": "right", "values": [40, 60, 80], "labelExpr": "datum.value == 40 ? '' : format(datum.value, '.2f')", "ticks": false, "domain": false, "grid": true, "labelPadding": 11, "labelFontSize": 13, "title": null}}
          }
        },
        {
          "data": {"name": "band"},
          "mark": {"type": "rect", "color": "#7e57c2", "opacity": 0.1},
          "encoding": {
            "y": {"field": "lo", "type": "quantitative", "title": null},
            "y2": {"field": "hi"}
          }
        },
        {
          "data": {"name": "levels"},
          "mark": {"type": "rule", "color": "#787b86", "strokeDash": [5, 4], "strokeWidth": 1, "opacity": 0.7},
          "encoding": {"y": {"field": "lvl", "type": "quantitative", "title": null}}
        },
        {
          "data": {"name": "rsima"},
          "mark": {"type": "line", "color": "#fdd835", "strokeWidth": 1},
          "encoding": {
            "x": {"field": "t", "type": "quantitative", "title": "TradingView"},
            "y": {"field": "r", "type": "quantitative", "title": null}
          }
        },
        {
          "data": {"name": "rsi"},
          "mark": {"type": "line", "color": "#7e57c2", "strokeWidth": 1},
          "encoding": {
            "x": {"field": "t", "type": "quantitative", "title": "TradingView"},
            "y": {"field": "r", "type": "quantitative", "title": null}
          }
        },
        {
          "data": {"name": "one"},
          "mark": {"type": "text", "text": "RSI (14, close)", "align": "left", "baseline": "middle", "fontSize": 13, "color": "#131722", "font": "Inter"},
          "encoding": {"x": {"datum": 2007.897, "type": "quantitative"}, "y": {"datum": 82.9, "type": "quantitative"}}
        },
        {
          "data": {"name": "one"},
          "mark": {"type": "text", "text": "52.35", "align": "left", "baseline": "middle", "fontSize": 13, "color": "#7e57c2", "font": "Inter"},
          "encoding": {"x": {"datum": 2009.291, "type": "quantitative"}, "y": {"datum": 82.9, "type": "quantitative"}}
        },
        {
          "data": {"name": "one"},
          "mark": {"type": "text", "text": "38.36", "align": "left", "baseline": "middle", "fontSize": 13, "color": "#fdd835", "font": "Inter"},
          "encoding": {"x": {"datum": 2009.938, "type": "quantitative"}, "y": {"datum": 82.9, "type": "quantitative"}}
        },
        {
          "data": {"name": "one"},
          "mark": {"type": "text", "text": "\u2300\u00a0\u00a0\u2300\u00a0\u00a0\u2300\u00a0\u00a0\u2300", "align": "left", "baseline": "middle", "fontSize": 12, "color": "#131722"},
          "encoding": {"x": {"datum": 2010.571, "type": "quantitative"}, "y": {"datum": 82.9, "type": "quantitative"}}
        },
        {
          "data": {"name": "one"},
          "mark": {"type": "rect", "fill": "#7e57c2", "cornerRadius": 2},
          "encoding": {"x": {"datum": 2025.316, "type": "quantitative"}, "x2": {"datum": 2026.049}, "y": {"datum": 55.79, "type": "quantitative"}, "y2": {"datum": 48.7}}
        },
        {
          "data": {"name": "one"},
          "mark": {"type": "text", "text": "52.35", "align": "left", "baseline": "middle", "fontSize": 13, "color": "white", "font": "Inter"},
          "encoding": {"x": {"datum": 2025.46, "type": "quantitative"}, "y": {"datum": 52.35, "type": "quantitative"}}
        },
        {
          "data": {"name": "one"},
          "mark": {"type": "rect", "fill": "#ffeb3b", "cornerRadius": 2},
          "encoding": {"x": {"datum": 2025.316, "type": "quantitative"}, "x2": {"datum": 2026.049}, "y": {"datum": 42.0, "type": "quantitative"}, "y2": {"datum": 34.6}}
        },
        {
          "data": {"name": "one"},
          "mark": {"type": "text", "text": "38.36", "align": "left", "baseline": "middle", "fontSize": 13, "color": "#131722", "font": "Inter"},
          "encoding": {"x": {"datum": 2025.46, "type": "quantitative"}, "y": {"datum": 38.36, "type": "quantitative"}}
        },
        {
          "data": {"name": "one"},
          "mark": {"type": "text", "text": "17", "align": "left", "baseline": "middle", "fontSize": 17, "fontWeight": 900, "color": "#131722", "font": "DejaVu Sans"},
          "encoding": {"x": {"datum": 2007.782, "type": "quantitative"}, "y": {"datum": 0.8, "type": "quantitative"}}
        }
      ]
    }
  ],
  "config": {
    "font": "Inter",
    "view": {"stroke": "#e0e3eb", "strokeWidth": 1},
    "axis": {"labelFont": "Inter", "titleFont": "Inter", "labelColor": "#131722", "titleColor": "#131722", "gridColor": "#f0f3fa", "gridWidth": 1}
  }
}
